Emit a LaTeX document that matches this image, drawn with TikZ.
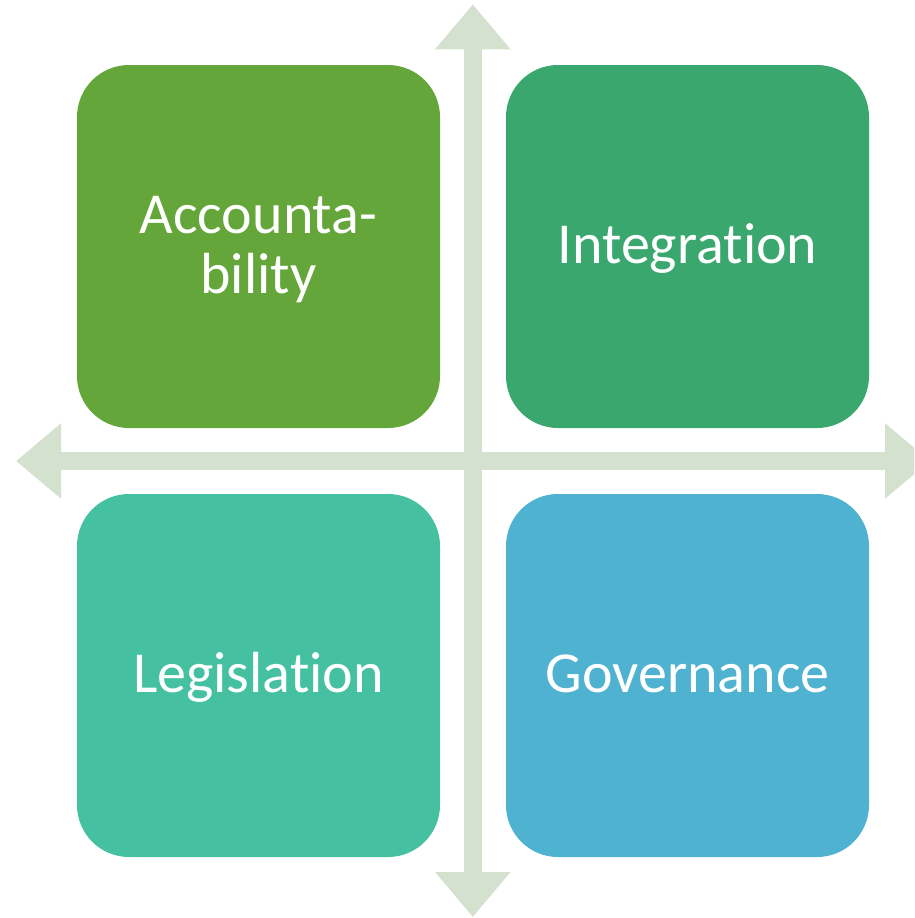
\documentclass[tikz,border=0pt]{standalone}
\usepackage{fontspec}
\setmainfont{Carlito}[Ligatures=NoCommon]
\usepackage{xcolor}
\usetikzlibrary{arrows.meta}
\definecolor{accgreen}{HTML}{64A63A}
\definecolor{intgreen}{HTML}{3AA76E}
\definecolor{legteal}{HTML}{45C1A2}
\definecolor{govblue}{HTML}{4FB2D0}
\definecolor{axisgray}{HTML}{D5E1CF}

\begin{document}
\begin{tikzpicture}[x=1pt,y=-1pt]
\tikzstyle{quad}=[draw=none, minimum size=363pt, inner sep=0pt, rounded corners=52pt, text=white, font=\fontsize{58}{60}\selectfont, align=center, text height=42pt, text depth=9pt]
\tikzstyle{axis}=[line width=18pt, draw=axisgray, {Triangle[width=72.6pt,length=45pt]}-{Triangle[width=72.6pt,length=45pt]}]
\useasboundingbox (0,0) rectangle (914,918);
\clip (0,0) rectangle (914,918);
% axes
\coordinate (top) at (472.8,4.3);
\coordinate (bottom) at (472.8,917);
\coordinate (left) at (16,461);
\coordinate (right) at (930,461);
\draw [axis] (bottom) -- (top);
\draw [axis] (left) -- (right);
% quadrants
\node [quad, fill=accgreen, text height=102pt] (acc) at (258.5,246.5) {Accounta-\\bility};
\node [quad, fill=intgreen] (integ) at (687.5,246.5) {Integration};
\node [quad, fill=legteal] (legis) at (258.5,675.5) {Legislation};
\node [quad, fill=govblue] (gov) at (687.5,675.5) {Governance};
\end{tikzpicture}
\end{document}
